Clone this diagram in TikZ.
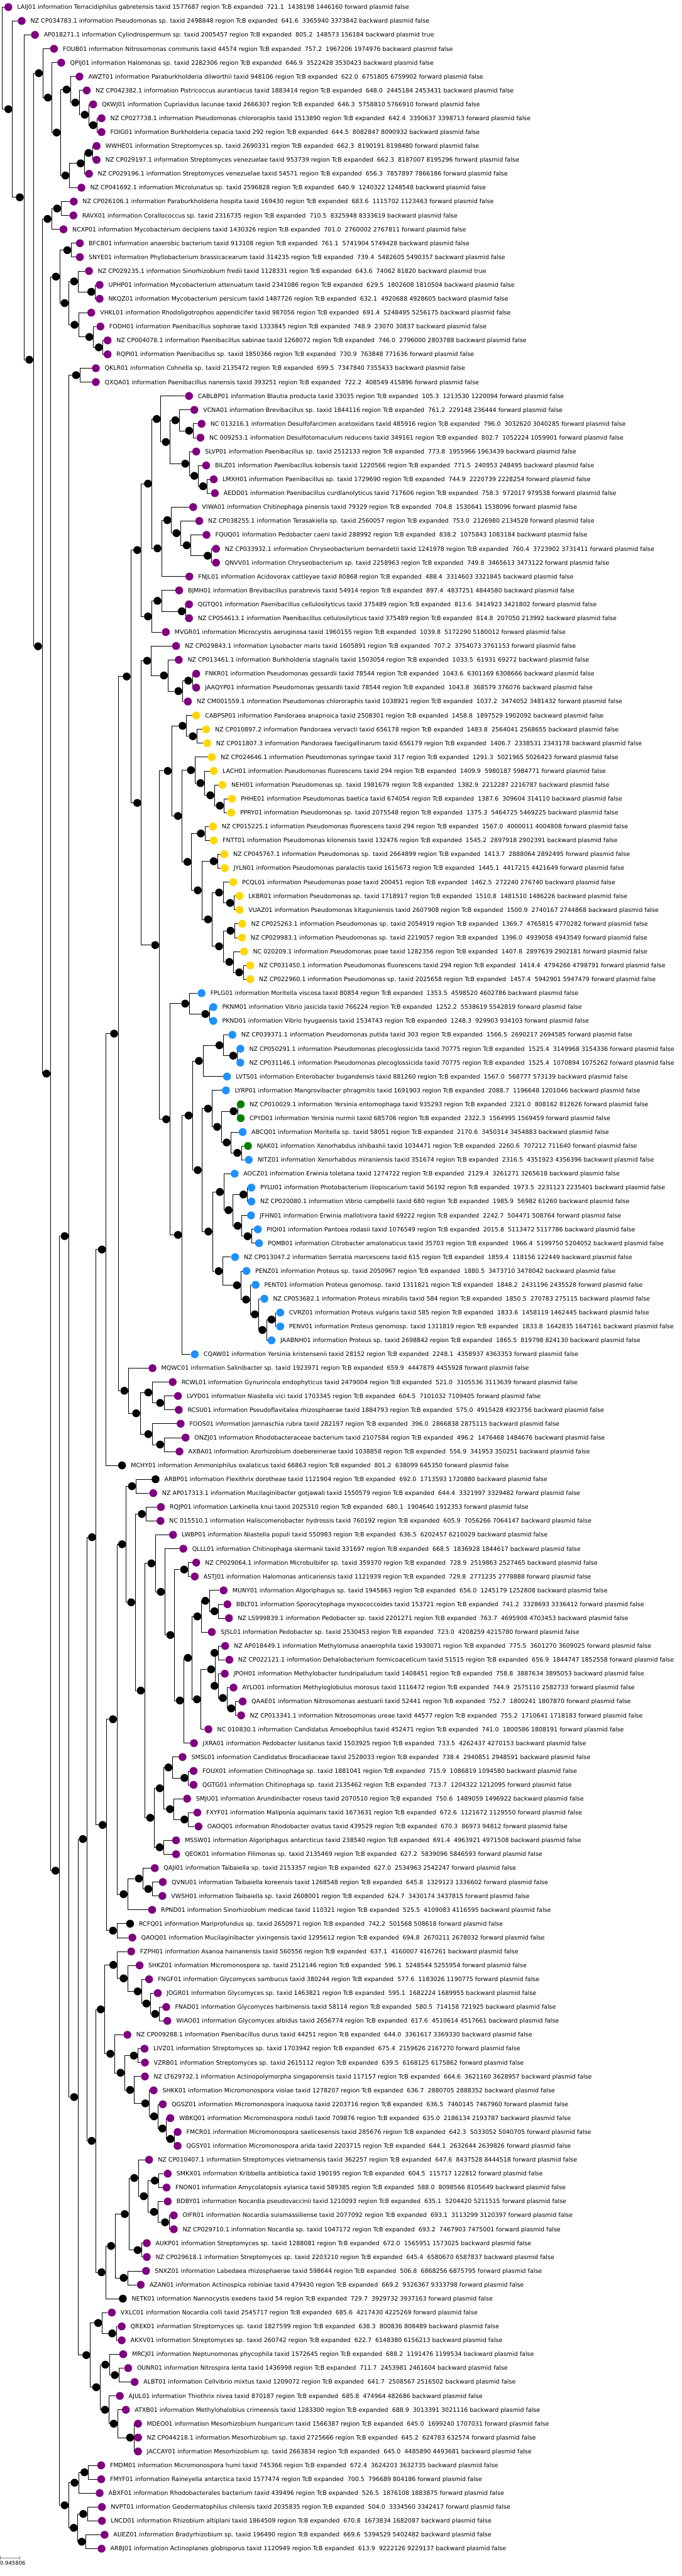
\documentclass[tikz,border=0pt]{standalone}
\usepackage{fontspec}
\setmainfont{DejaVu Sans}
\usetikzlibrary{backgrounds}
\definecolor{cpurple}{RGB}{128,0,128}
\definecolor{cyellow}{RGB}{255,215,0}
\definecolor{cblue}{RGB}{30,144,255}
\definecolor{cgreen}{RGB}{0,128,0}
\tikzset{
 dotbase/.style={circle,draw=none,minimum size=18.5pt,inner sep=0pt},
 inode/.style={dotbase,fill=black},
 leafp/.style={dotbase,fill=cpurple},
 leafy/.style={dotbase,fill=cyellow},
 leafb/.style={dotbase,fill=cblue},
 leafg/.style={dotbase,fill=cgreen},
 leafk/.style={dotbase,fill=black},
 lab/.style={anchor=base west,inner sep=0pt,font=\fontsize{14}{16}\selectfont},
 conn/.style={draw=black,line width=1pt},
}
\newcommand{\lf}[7]{\node[#4] (#1) at (#2,#3) {};\node[lab] (t#1) at ([xshift=11.2pt,yshift=-5.1pt]#1.east) {#5 region TcB expanded\ \ #6\ \ #7};}
\newcommand{\nd}[3]{\node[inode] (#1) at (#2,#3) {};}
\newcommand{\ch}[2]{\foreach \kid in {#2}{\draw[conn] (#1.east) |- (\kid.west);}}
\begin{document}
\begin{tikzpicture}[x=1pt,y=-32.59pt]
\useasboundingbox (0,0.48757) rectangle (1600,185.9706);
% leaves
\lf{l1}{19.6}{1}{leafp}{LAIJ01 information Terracidiphilus gabretensis taxid 1577687}{721.1}{1438198 1446160 forward plasmid false}
\lf{l2}{50.9}{2}{leafp}{NZ CP034783.1 information Pseudomonas sp. taxid 2498848}{641.6}{3365940 3373842 backward plasmid false}
\lf{l3}{82.1}{3}{leafp}{AP018271.1 information Cylindrospermum sp. taxid 2005457}{805.2}{148573 156184 backward plasmid true}
\lf{l4}{126.8}{4}{leafp}{FOUB01 information Nitrosomonas communis taxid 44574}{757.2}{1967206 1974976 backward plasmid false}
\lf{l5}{143.8}{5}{leafp}{QPIJ01 information Halomonas sp. taxid 2282306}{646.9}{3522428 3530423 backward plasmid false}
\lf{l6}{186.6}{6}{leafp}{AWZT01 information Paraburkholderia dilworthii taxid 948106}{622.0}{6751805 6759902 forward plasmid false}
\lf{l7}{203.6}{7}{leafp}{NZ CP042382.1 information Pistricoccus aurantiacus taxid 1883414}{648.0}{2445184 2453431 backward plasmid false}
\lf{l8}{218.8}{8}{leafp}{QKWJ01 information Cupriavidus lacunae taxid 2666307}{646.3}{5758810 5766910 forward plasmid false}
\lf{l9}{238.4}{9}{leafp}{NZ CP027738.1 information Pseudomonas chlororaphis taxid 1513890}{642.4}{3390637 3398713 forward plasmid false}
\lf{l10}{238.4}{10}{leafp}{FOIG01 information Burkholderia cepacia taxid 292}{644.5}{8082847 8090932 backward plasmid false}
\lf{l11}{226.8}{11}{leafp}{WWHE01 information Streptomyces sp. taxid 2690331}{662.3}{8190191 8198480 forward plasmid false}
\lf{l12}{226.8}{12}{leafp}{NZ CP029197.1 information Streptomyces venezuelae taxid 953739}{662.3}{8187007 8195296 forward plasmid false}
\lf{l13}{208.9}{13}{leafp}{NZ CP029196.1 information Streptomyces venezuelae taxid 54571}{656.3}{7857897 7866186 forward plasmid false}
\lf{l14}{191.1}{14}{leafp}{NZ CP041692.1 information Microlunatus sp. taxid 2596828}{640.9}{1240322 1248548 backward plasmid false}
\lf{l15}{173.2}{15}{leafp}{NZ CP026106.1 information Paraburkholderia hospita taxid 169430}{683.6}{1115702 1123463 forward plasmid false}
\lf{l16}{172.3}{16}{leafp}{RAVX01 information Corallococcus sp. taxid 2316735}{710.5}{8325948 8333619 backward plasmid false}
\lf{l17}{149.1}{17}{leafp}{NCXP01 information Mycobacterium decipiens taxid 1430326}{701.0}{2760002 2767811 forward plasmid false}
\lf{l18}{187.5}{18}{leafp}{BFCB01 information anaerobic bacterium taxid 913108}{761.1}{5741904 5749428 backward plasmid false}
\lf{l19}{187.5}{19}{leafp}{SNYE01 information Phyllobacterium brassicacearum taxid 314235}{739.4}{5482605 5490357 backward plasmid false}
\lf{l20}{208.9}{20}{leafp}{NZ CP029235.1 information Sinorhizobium fredii taxid 1128331}{643.6}{74062 81820 backward plasmid true}
\lf{l21}{233.9}{21}{leafp}{UPHP01 information Mycobacterium attenuatum taxid 2341086}{629.5}{1802608 1810504 backward plasmid false}
\lf{l22}{233.9}{22}{leafp}{NKQZ01 information Mycobacterium persicum taxid 1487726}{632.1}{4920688 4928605 backward plasmid false}
\lf{l23}{214.3}{23}{leafp}{VHKL01 information Rhodoligotrophos appendicifer taxid 987056}{691.4}{5248495 5256175 backward plasmid false}
\lf{l24}{235.7}{24}{leafp}{FODH01 information Paenibacillus sophorae taxid 1333845}{748.9}{23070 30837 backward plasmid false}
\lf{l25}{252.7}{25}{leafp}{NZ CP004078.1 information Paenibacillus sabinae taxid 1268072}{746.0}{2796000 2803788 backward plasmid false}
\lf{l26}{252.7}{26}{leafp}{RQPI01 information Paenibacillus sp. taxid 1850366}{730.9}{763848 771636 forward plasmid false}
\lf{l27}{225}{27}{leafp}{QKLR01 information Cohnella sp. taxid 2135472}{699.5}{7347840 7355433 backward plasmid false}
\lf{l28}{225}{28}{leafp}{QXQA01 information Paenibacillus nanensis taxid 393251}{722.2}{408549 415896 forward plasmid false}
\lf{l29}{443.8}{29}{leafp}{CABLBP01 information Blautia producta taxid 33035}{105.3}{1213530 1220094 forward plasmid false}
\lf{l30}{456.3}{30}{leafp}{VCNA01 information Brevibacillus sp. taxid 1844116}{761.2}{229148 236444 forward plasmid false}
\lf{l31}{473.2}{31}{leafp}{NC 013216.1 information Desulfofarcimen acetoxidans taxid 485916}{796.0}{3032620 3040285 forward plasmid false}
\lf{l32}{470.6}{32}{leafp}{NC 009253.1 information Desulfotomaculum reducens taxid 349161}{802.7}{1052224 1059901 forward plasmid false}
\lf{l33}{460.7}{33}{leafp}{SLVP01 information Paenibacillus sp. taxid 2512133}{773.8}{1955966 1963439 backward plasmid false}
\lf{l34}{484}{34}{leafp}{BILZ01 information Paenibacillus kobensis taxid 1220566}{771.5}{240953 248495 backward plasmid false}
\lf{l35}{501.8}{35}{leafp}{LMXH01 information Paenibacillus sp. taxid 1729690}{744.9}{2220739 2228254 forward plasmid false}
\lf{l36}{504.5}{36}{leafp}{AEDD01 information Paenibacillus curdlanolyticus taxid 717606}{758.3}{972017 979538 forward plasmid false}
\lf{l37}{453.6}{37}{leafp}{VIWA01 information Chitinophaga pinensis taxid 79329}{704.8}{1530641 1538096 forward plasmid false}
\lf{l38}{467.9}{38}{leafp}{NZ CP038255.1 information Terasakiella sp. taxid 2560057}{753.0}{2126980 2134528 forward plasmid false}
\lf{l39}{484.8}{39}{leafp}{FQUQ01 information Pedobacter caeni taxid 288992}{838.2}{1075843 1083184 backward plasmid false}
\lf{l40}{507.2}{40}{leafp}{NZ CP033932.1 information Chryseobacterium bernardetii taxid 1241978}{760.4}{3723902 3731411 forward plasmid false}
\lf{l41}{507.2}{41}{leafp}{QNVV01 information Chryseobacterium sp. taxid 2258963}{749.8}{3465613 3473122 forward plasmid false}
\lf{l42}{444.6}{42}{leafp}{FNJL01 information Acidovorax cattleyae taxid 80868}{488.4}{3314603 3321845 backward plasmid false}
\lf{l43}{420.6}{43}{leafp}{BJMH01 information Brevibacillus parabrevis taxid 54914}{897.4}{4837251 4844580 backward plasmid false}
\lf{l44}{443.8}{44}{leafp}{QGTQ01 information Paenibacillus cellulosilyticus taxid 375489}{813.6}{3414923 3421802 forward plasmid false}
\lf{l45}{443.8}{45}{leafp}{NZ CP054613.1 information Paenibacillus cellulosilyticus taxid 375489}{814.8}{207050 213992 backward plasmid false}
\lf{l46}{389.3}{46}{leafp}{MVGR01 information Microcystis aeruginosa taxid 1960155}{1039.8}{5172290 5180012 forward plasmid false}
\lf{l47}{413.4}{47}{leafp}{NZ CP029843.1 information Lysobacter maris taxid 1605891}{707.2}{3754073 3761153 forward plasmid false}
\lf{l48}{419.7}{48}{leafp}{NZ CP013461.1 information Burkholderia stagnalis taxid 1503054}{1033.5}{61931 69272 backward plasmid false}
\lf{l49}{460.7}{49}{leafp}{FNKR01 information Pseudomonas gessardii taxid 78544}{1043.6}{6301169 6308666 backward plasmid false}
\lf{l50}{460.7}{50}{leafp}{JAAQYP01 information Pseudomonas gessardii taxid 78544}{1043.8}{368579 376076 backward plasmid false}
\lf{l51}{441.1}{51}{leafp}{NZ CM001559.1 information Pseudomonas chlororaphis taxid 1038921}{1037.2}{3474052 3481432 forward plasmid false}
\lf{l52}{460.7}{52}{leafy}{CABPSP01 information Pandoraea anapnoica taxid 2508301}{1458.8}{1897529 1902092 backward plasmid false}
\lf{l53}{484}{53}{leafy}{NZ CP010897.2 information Pandoraea vervacti taxid 656178}{1483.8}{2564041 2568655 backward plasmid false}
\lf{l54}{486.6}{54}{leafy}{NZ CP011807.3 information Pandoraea faecigallinarum taxid 656179}{1406.7}{2338531 2343178 backward plasmid false}
\lf{l55}{497.3}{55}{leafy}{NZ CP024646.1 information Pseudomonas syringae taxid 317}{1291.3}{5021965 5026423 forward plasmid false}
\lf{l56}{501.8}{56}{leafy}{LACH01 information Pseudomonas fluorescens taxid 294}{1409.9}{5980187 5984771 forward plasmid false}
\lf{l57}{522.3}{57}{leafy}{NEHI01 information Pseudomonas sp. taxid 1981679}{1382.9}{2212287 2216787 backward plasmid false}
\lf{l58}{544.7}{58}{leafy}{PHHE01 information Pseudomonas baetica taxid 674054}{1387.6}{309604 314110 backward plasmid false}
\lf{l59}{542.9}{59}{leafy}{PPRY01 information Pseudomonas sp. taxid 2075548}{1375.3}{5464725 5469225 backward plasmid false}
\lf{l60}{500}{60}{leafy}{NZ CP015225.1 information Pseudomonas fluorescens taxid 294}{1567.0}{4000011 4004808 forward plasmid false}
\lf{l61}{501.8}{61}{leafy}{FNTT01 information Pseudomonas kilonensis taxid 132476}{1545.2}{2897918 2902391 backward plasmid false}
\lf{l62}{526.8}{62}{leafy}{NZ CP045767.1 information Pseudomonas sp. taxid 2664899}{1413.7}{2888064 2892495 forward plasmid false}
\lf{l63}{527.7}{63}{leafy}{JYLN01 information Pseudomonas paralactis taxid 1615673}{1445.1}{4417215 4421649 forward plasmid false}
\lf{l64}{547.4}{64}{leafy}{PCQL01 information Pseudomonas poae taxid 200451}{1462.5}{272240 276740 backward plasmid false}
\lf{l65}{562.5}{65}{leafy}{LKBR01 information Pseudomonas sp. taxid 1718917}{1510.8}{1481510 1486226 backward plasmid false}
\lf{l66}{562.5}{66}{leafy}{VUAZ01 information Pseudomonas kitaguniensis taxid 2607908}{1500.9}{2740167 2744868 backward plasmid false}
\lf{l67}{568.8}{67}{leafy}{NZ CP025263.1 information Pseudomonas sp. taxid 2054919}{1369.7}{4765815 4770282 forward plasmid false}
\lf{l68}{567.9}{68}{leafy}{NZ CP029983.1 information Pseudomonas sp. taxid 2219057}{1396.0}{4939058 4943549 forward plasmid false}
\lf{l69}{573.2}{69}{leafy}{NC 020209.1 information Pseudomonas poae taxid 1282356}{1407.8}{2897639 2902181 forward plasmid false}
\lf{l70}{587.5}{70}{leafy}{NZ CP031450.1 information Pseudomonas fluorescens taxid 294}{1414.4}{4794266 4798791 forward plasmid false}
\lf{l71}{587.5}{71}{leafy}{NZ CP022960.1 information Pseudomonas sp. taxid 2025658}{1457.4}{5942901 5947479 forward plasmid false}
\lf{l72}{473.2}{72}{leafb}{FPLG01 information Moritella viscosa taxid 80854}{1353.5}{4598520 4602786 backward plasmid false}
\lf{l73}{500.9}{73}{leafb}{PKNM01 information Vibrio jasicida taxid 766224}{1252.2}{5538619 5542819 forward plasmid false}
\lf{l74}{500.9}{74}{leafb}{PKND01 information Vibrio hyugaensis taxid 1534743}{1248.3}{929903 934103 forward plasmid false}
\lf{l75}{545.6}{75}{leafb}{NZ CP039371.1 information Pseudomonas putida taxid 303}{1566.5}{2690217 2694585 forward plasmid false}
\lf{l76}{564.3}{76}{leafb}{NZ CP050291.1 information Pseudomonas plecoglossicida taxid 70775}{1525.4}{3149968 3154336 forward plasmid false}
\lf{l77}{564.3}{77}{leafb}{NZ CP031146.1 information Pseudomonas plecoglossicida taxid 70775}{1525.4}{1070894 1075262 forward plasmid false}
\lf{l78}{533}{78}{leafb}{LVTS01 information Enterobacter bugandensis taxid 881260}{1567.0}{568777 573139 backward plasmid false}
\lf{l79}{530.4}{79}{leafb}{LYRP01 information Mangrovibacter phragmitis taxid 1691903}{2088.7}{1196648 1201046 backward plasmid false}
\lf{l80}{565.2}{80}{leafg}{NZ CP010029.1 information Yersinia entomophaga taxid 935293}{2321.0}{808162 812626 forward plasmid false}
\lf{l81}{565.2}{81}{leafg}{CPYD01 information Yersinia nurmii taxid 685706}{2322.3}{1564995 1569459 forward plasmid false}
\lf{l82}{569.7}{82}{leafb}{ABCQ01 information Moritella sp. taxid 58051}{2170.6}{3450314 3454883 backward plasmid false}
\lf{l83}{582.2}{83}{leafg}{NJAK01 information Xenorhabdus ishibashii taxid 1034471}{2260.6}{707212 711640 forward plasmid false}
\lf{l84}{584}{84}{leafb}{NITZ01 information Xenorhabdus miraniensis taxid 351674}{2316.5}{4351923 4356396 backward plasmid false}
\lf{l85}{550.9}{85}{leafb}{AOCZ01 information Erwinia toletana taxid 1274722}{2129.4}{3261271 3265618 backward plasmid false}
\lf{l86}{590.2}{86}{leafb}{PYLU01 information Photobacterium iliopiscarium taxid 56192}{1973.5}{2231123 2235401 backward plasmid false}
\lf{l87}{590.2}{87}{leafb}{NZ CP020080.1 information Vibrio campbellii taxid 680}{1985.9}{56982 61260 backward plasmid false}
\lf{l88}{589.3}{88}{leafb}{JFHN01 information Erwinia mallotivora taxid 69222}{2242.7}{504471 508764 forward plasmid false}
\lf{l89}{605.4}{89}{leafb}{PIQI01 information Pantoea rodasii taxid 1076549}{2015.8}{5113472 5117786 backward plasmid false}
\lf{l90}{608}{90}{leafb}{PQMB01 information Citrobacter amalonaticus taxid 35703}{1966.4}{5199750 5204052 backward plasmid false}
\lf{l91}{551.8}{91}{leafb}{NZ CP013047.2 information Serratia marcescens taxid 615}{1859.4}{118156 122449 backward plasmid false}
\lf{l92}{578.6}{92}{leafb}{PENZ01 information Proteus sp. taxid 2050967}{1880.5}{3473710 3478042 backward plasmid false}
\lf{l93}{600}{93}{leafb}{PENT01 information Proteus genomosp. taxid 1311821}{1848.2}{2431196 2435528 forward plasmid false}
\lf{l94}{620.6}{94}{leafb}{NZ CP053682.1 information Proteus mirabilis taxid 584}{1850.5}{270783 275115 backward plasmid false}
\lf{l95}{658}{95}{leafb}{CVRZ01 information Proteus vulgaris taxid 585}{1833.6}{1458119 1462445 backward plasmid false}
\lf{l96}{658}{96}{leafb}{PENV01 information Proteus genomosp. taxid 1311819}{1833.8}{1642835 1647161 backward plasmid false}
\lf{l97}{637.5}{97}{leafb}{JAABNH01 information Proteus sp. taxid 2698842}{1865.5}{819798 824130 backward plasmid false}
\lf{l98}{457.2}{98}{leafb}{CQAW01 information Yersinia kristensenii taxid 28152}{2248.1}{4358937 4363353 forward plasmid false}
\lf{l99}{358}{99}{leafp}{MQWC01 information Salinibacter sp. taxid 1923971}{659.9}{4447879 4455928 forward plasmid false}
\lf{l100}{405.4}{100}{leafp}{RCWL01 information Gynurincola endophyticus taxid 2479004}{521.0}{3105536 3113639 forward plasmid false}
\lf{l101}{417.9}{101}{leafp}{LVYD01 information Niastella vici taxid 1703345}{604.5}{7101032 7109405 forward plasmid false}
\lf{l102}{419.7}{102}{leafp}{RCSU01 information Pseudoflavitalea rhizosphaerae taxid 1884793}{575.0}{4915428 4923756 backward plasmid false}
\lf{l103}{424.1}{103}{leafp}{FOOS01 information Jannaschia rubra taxid 282197}{396.0}{2866838 2875115 backward plasmid false}
\lf{l104}{435.7}{104}{leafp}{ONZJ01 information Rhodobacteraceae bacterium taxid 2107584}{496.2}{1476468 1484676 backward plasmid false}
\lf{l105}{421.4}{105}{leafp}{AXBA01 information Azorhizobium doebereinerae taxid 1038858}{556.9}{341953 350251 backward plasmid false}
\lf{l106}{286.6}{106}{leafk}{MCHY01 information Ammoniphilus oxalaticus taxid 66863}{801.2}{638099 645350 forward plasmid false}
\lf{l107}{365.2}{107}{leafk}{ARBP01 information Flexithrix dorotheae taxid 1121904}{692.0}{1713593 1720880 backward plasmid false}
\lf{l108}{359.8}{108}{leafp}{NZ AP017313.1 information Mucilaginibacter gotjawali taxid 1550579}{644.4}{3321997 3329482 forward plasmid false}
\lf{l109}{377.7}{109}{leafp}{RQJP01 information Larkinella knui taxid 2025310}{680.1}{1904640 1912353 forward plasmid false}
\lf{l110}{376.8}{110}{leafp}{NC 015510.1 information Haliscomenobacter hydrossis taxid 760192}{605.9}{7056266 7064147 backward plasmid false}
\lf{l111}{406.3}{111}{leafp}{LWBP01 information Niastella populi taxid 550983}{636.5}{6202457 6210029 backward plasmid false}
\lf{l112}{430.4}{112}{leafp}{QLLL01 information Chitinophaga skermanii taxid 331697}{668.5}{1836928 1844617 backward plasmid false}
\lf{l113}{460.7}{113}{leafp}{NZ CP029064.1 information Microbulbifer sp. taxid 359370}{728.9}{2519863 2527465 backward plasmid false}
\lf{l114}{457.2}{114}{leafp}{ASTJ01 information Halomonas anticariensis taxid 1121939}{729.8}{2771235 2778888 forward plasmid false}
\lf{l115}{525}{115}{leafp}{MUNY01 information Algoriphagus sp. taxid 1945863}{656.0}{1245179 1252808 backward plasmid false}
\lf{l116}{534}{116}{leafp}{BBLT01 information Sporocytophaga myxococcoides taxid 153721}{741.2}{3328693 3336412 forward plasmid false}
\lf{l117}{537.5}{117}{leafp}{NZ LS999839.1 information Pedobacter sp. taxid 2201271}{763.7}{4695908 4703453 backward plasmid false}
\lf{l118}{497.3}{118}{leafp}{SJSL01 information Pedobacter sp. taxid 2530453}{723.0}{4208259 4215780 forward plasmid false}
\lf{l119}{528.6}{119}{leafp}{NZ AP018449.1 information Methylomusa anaerophila taxid 1930071}{775.5}{3601270 3609025 forward plasmid false}
\lf{l120}{538.4}{120}{leafp}{NZ CP022121.1 information Dehalobacterium formicoaceticum taxid 51515}{656.9}{1844747 1852558 forward plasmid false}
\lf{l121}{527.7}{121}{leafp}{JPOH01 information Methylobacter tundripaludum taxid 1408451}{758.8}{3887634 3895053 backward plasmid false}
\lf{l122}{548.2}{122}{leafp}{AYLO01 information Methyloglobulus morosus taxid 1116472}{744.9}{2575110 2582733 forward plasmid false}
\lf{l123}{569.7}{123}{leafp}{QAAE01 information Nitrosomonas aestuarii taxid 52441}{752.7}{1800241 1807870 forward plasmid false}
\lf{l124}{566.1}{124}{leafp}{NZ CP013341.1 information Nitrosomonas ureae taxid 44577}{755.2}{1710641 1718183 forward plasmid false}
\lf{l125}{489.3}{125}{leafp}{NC 010830.1 information Candidatus Amoebophilus taxid 452471}{741.0}{1800586 1808191 forward plasmid false}
\lf{l126}{455.4}{126}{leafp}{JXRA01 information Pedobacter lusitanus taxid 1503925}{733.5}{4262437 4270153 backward plasmid false}
\lf{l127}{428.6}{127}{leafp}{SMSL01 information Candidatus Brocadiaceae taxid 2528033}{738.4}{2940851 2948591 backward plasmid false}
\lf{l128}{454.5}{128}{leafp}{FOUX01 information Chitinophaga sp. taxid 1881041}{715.9}{1086819 1094580 backward plasmid false}
\lf{l129}{454.5}{129}{leafp}{QGTG01 information Chitinophaga sp. taxid 2135462}{713.7}{1204322 1212095 forward plasmid false}
\lf{l130}{439.3}{130}{leafp}{SMJU01 information Arundinibacter roseus taxid 2070510}{750.6}{1489059 1496922 backward plasmid false}
\lf{l131}{463.4}{131}{leafp}{FXYF01 information Maliponia aquimaris taxid 1673631}{672.6}{1121672 1129550 forward plasmid false}
\lf{l132}{466.1}{132}{leafp}{OAOQ01 information Rhodobacter ovatus taxid 439529}{670.3}{86973 94812 forward plasmid false}
\lf{l133}{413.4}{133}{leafp}{MSSW01 information Algoriphagus antarcticus taxid 238540}{691.4}{4963921 4971508 backward plasmid false}
\lf{l134}{413.4}{134}{leafp}{QEOK01 information Filimonas sp. taxid 2135469}{627.2}{5839096 5846593 forward plasmid false}
\lf{l135}{363.4}{135}{leafp}{QAJI01 information Taibaiella sp. taxid 2153357}{627.0}{2534963 2542247 forward plasmid false}
\lf{l136}{382.2}{136}{leafp}{QVNU01 information Taibaiella koreensis taxid 1268548}{645.8}{1329123 1336602 forward plasmid false}
\lf{l137}{381.3}{137}{leafp}{VWSH01 information Taibaiella sp. taxid 2608001}{624.7}{3430174 3437815 forward plasmid false}
\lf{l138}{357.2}{138}{leafp}{RPND01 information Sinorhizobium medicae taxid 110321}{525.5}{4109083 4116595 backward plasmid false}
\lf{l139}{305.4}{139}{leafk}{RCFQ01 information Mariprofundus sp. taxid 2650971}{742.2}{501568 508618 forward plasmid false}
\lf{l140}{310.7}{140}{leafp}{QAOQ01 information Mucilaginibacter yixingensis taxid 1295612}{694.8}{2670211 2678032 forward plasmid false}
\lf{l141}{308}{141}{leafp}{FZPH01 information Asanoa hainanensis taxid 560556}{637.1}{4160007 4167261 backward plasmid false}
\lf{l142}{327.7}{142}{leafp}{SHKZ01 information Micromonospora sp. taxid 2512146}{596.1}{5248544 5255954 forward plasmid false}
\lf{l143}{350}{143}{leafp}{FNGF01 information Glycomyces sambucus taxid 380244}{577.6}{1183026 1190775 forward plasmid false}
\lf{l144}{370.5}{144}{leafp}{JOGR01 information Glycomyces sp. taxid 1463821}{595.1}{1682224 1689955 backward plasmid false}
\lf{l145}{390.2}{145}{leafp}{FNAD01 information Glycomyces harbinensis taxid 58114}{580.5}{714158 721925 backward plasmid false}
\lf{l146}{392.9}{146}{leafp}{WIAO01 information Glycomyces albidus taxid 2656774}{617.6}{4510614 4517661 backward plasmid false}
\lf{l147}{299.1}{147}{leafp}{NZ CP009288.1 information Paenibacillus durus taxid 44251}{644.0}{3361617 3369330 backward plasmid false}
\lf{l148}{339.3}{148}{leafp}{LIVZ01 information Streptomyces sp. taxid 1703942}{675.4}{2159626 2167270 forward plasmid false}
\lf{l149}{340.2}{149}{leafp}{VZRB01 information Streptomyces sp. taxid 2615112}{639.5}{6168125 6175862 forward plasmid false}
\lf{l150}{340.2}{150}{leafp}{NZ LT629732.1 information Actinopolymorpha singaporensis taxid 117157}{664.6}{3621160 3628957 backward plasmid false}
\lf{l151}{360.7}{151}{leafp}{SHKK01 information Micromonospora violae taxid 1278207}{636.7}{2880705 2888352 backward plasmid false}
\lf{l152}{382.2}{152}{leafp}{QGSZ01 information Micromonospora inaquosa taxid 2203716}{636.5}{7460145 7467960 forward plasmid false}
\lf{l153}{400}{153}{leafp}{WBKQ01 information Micromonospora noduli taxid 709876}{635.0}{2186134 2193787 backward plasmid false}
\lf{l154}{417}{154}{leafp}{FMCR01 information Micromonospora saelicesensis taxid 285676}{642.3}{5033052 5040705 forward plasmid false}
\lf{l155}{417}{155}{leafp}{QGSY01 information Micromonospora arida taxid 2203715}{644.1}{2632644 2639826 forward plasmid false}
\lf{l156}{350}{156}{leafp}{NZ CP010407.1 information Streptomyces vietnamensis taxid 362257}{647.6}{8437528 8444518 forward plasmid false}
\lf{l157}{393.8}{157}{leafp}{SMKX01 information Kribbella antibiotica taxid 190195}{604.5}{115717 122812 forward plasmid false}
\lf{l158}{391.1}{158}{leafp}{FNON01 information Amycolatopsis xylanica taxid 589385}{588.0}{8098566 8105649 backward plasmid false}
\lf{l159}{393.8}{159}{leafp}{BDBY01 information Nocardia pseudovaccinii taxid 1210093}{635.1}{5204420 5211515 forward plasmid false}
\lf{l160}{408}{160}{leafp}{OIFR01 information Nocardia suismassiliense taxid 2077092}{693.1}{3113299 3120397 forward plasmid false}
\lf{l161}{408}{161}{leafp}{NZ CP029710.1 information Nocardia sp. taxid 1047172}{693.2}{7467903 7475001 forward plasmid false}
\lf{l162}{344.6}{162}{leafp}{AUKP01 information Streptomyces sp. taxid 1288081}{672.0}{1565951 1573025 backward plasmid false}
\lf{l163}{344.6}{163}{leafp}{NZ CP029618.1 information Streptomyces sp. taxid 2203210}{645.4}{6580670 6587837 backward plasmid false}
\lf{l164}{342.9}{164}{leafp}{SNXZ01 information Labedaea rhizosphaerae taxid 598644}{506.8}{6868256 6875795 forward plasmid false}
\lf{l165}{330.4}{165}{leafp}{AZAN01 information Actinospica robiniae taxid 479430}{669.2}{9326367 9333798 forward plasmid false}
\lf{l166}{288.4}{166}{leafk}{NETK01 information Nannocystis exedens taxid 54}{729.7}{3929732 3937163 forward plasmid false}
\lf{l167}{262.5}{167}{leafp}{VXLC01 information Nocardia colli taxid 2545717}{685.6}{4217430 4225269 forward plasmid false}
\lf{l168}{285.7}{168}{leafp}{QREK01 information Streptomyces sp. taxid 1827599}{638.3}{800836 808489 backward plasmid false}
\lf{l169}{285.7}{169}{leafp}{AKXV01 information Streptomyces sp. taxid 260742}{622.7}{6148380 6156213 backward plasmid false}
\lf{l170}{289.3}{170}{leafp}{MRCJ01 information Neptunomonas phycophila taxid 1572645}{688.2}{1191476 1199534 backward plasmid false}
\lf{l171}{300.9}{171}{leafp}{OUNR01 information Nitrospira lenta taxid 1436998}{711.7}{2453981 2461604 backward plasmid false}
\lf{l172}{316.1}{172}{leafp}{ALBT01 information Cellvibrio mixtus taxid 1209072}{641.7}{2508567 2516502 backward plasmid false}
\lf{l173}{281.3}{173}{leafp}{AJUL01 information Thiothrix nivea taxid 870187}{685.8}{474964 482686 backward plasmid false}
\lf{l174}{295.5}{174}{leafp}{ATXB01 information Methylohalobius crimeensis taxid 1283300}{688.9}{3013391 3021116 backward plasmid false}
\lf{l175}{324.1}{175}{leafp}{MDEO01 information Mesorhizobium hungaricum taxid 1566387}{645.0}{1699240 1707031 forward plasmid false}
\lf{l176}{324.1}{176}{leafp}{NZ CP044218.1 information Mesorhizobium sp. taxid 2725666}{645.2}{624783 632574 forward plasmid false}
\lf{l177}{324.1}{177}{leafp}{JACCAY01 information Mesorhizobium sp. taxid 2663834}{645.0}{4485890 4493681 backward plasmid false}
\lf{l178}{237.5}{178}{leafp}{FMDM01 information Micromonospora humi taxid 745366}{672.4}{3624203 3632735 backward plasmid false}
\lf{l179}{237.5}{179}{leafp}{FMYF01 information Raineyella antarctica taxid 1577474}{700.5}{796689 804186 forward plasmid false}
\lf{l180}{233.9}{180}{leafp}{ABXF01 information Rhodobacterales bacterium taxid 439496}{526.5}{1876108 1883875 forward plasmid false}
\lf{l181}{239.3}{181}{leafp}{NVPT01 information Geodermatophilus chilensis taxid 2035835}{504.0}{3334560 3342417 forward plasmid false}
\lf{l182}{239.3}{182}{leafp}{LNCD01 information Rhizobium altiplani taxid 1864509}{670.8}{1673834 1682087 backward plasmid false}
\lf{l183}{245.5}{183}{leafp}{AUEZ01 information Bradyrhizobium sp. taxid 196490}{669.6}{5394529 5402482 backward plasmid false}
\lf{l184}{238.4}{184}{leafp}{ARBJ01 information Actinoplanes globisporus taxid 1120949}{613.9}{9222126 9229137 backward plasmid false}
% internal nodes
\coordinate (root) at (4.5,4.67376);
\nd{A}{19.6}{8.34752}\nd{B}{46.4}{14.69505}\nd{C}{68.8}{26.39009}
\nd{D}{91.1}{5.7578125}\nd{F}{112.5}{7.515625}\nd{G}{133}{10.03125}
\nd{H}{156.3}{6.9375}\nd{H2}{176.8}{7.875}\nd{H3}{199}{8.75}\nd{H4}{218.8}{9.5}
\nd{I}{153.6}{13.125}\nd{I2}{189.3}{12.25}\nd{I3}{208}{11.5}
\nd{E}{89.3}{47.02237}\nd{J}{111.6}{16.25}\nd{K}{134}{15.5}
\nd{L}{109}{77.79474}\nd{M}{131.3}{20.40625}\nd{M1}{158}{18.5}\nd{M2}{151.8}{22.3125}
\nd{M2a}{174}{20.75}\nd{M2a2}{214.3}{21.5}\nd{M2b}{175}{23.875}\nd{M2c}{209.8}{24.75}\nd{M2d}{232}{25.5}
\nd{N}{130.4}{135.18323}\nd{P}{151.8}{89.49146}\nd{P1}{178.6}{27.5}\nd{P2}{174}{151.4829}
\nd{AF}{194.6}{132.9033}\nd{AD}{216}{111.1719}\nd{AC}{239.3}{90.4554}\nd{AA}{267.9}{74.9108}
\nd{V}{297.3}{49.1966}\nd{U}{322.3}{40.09375}\nd{S}{347.4}{35.3125}
\nd{R1}{367.9}{30.65625}\nd{R2}{389.3}{32.3125}\nd{R3}{411.6}{30.75}\nd{R3a}{443.8}{31.5}
\nd{R4}{434.9}{33.875}\nd{R5}{456.3}{34.75}\nd{R6}{476.8}{35.5}
\nd{S2}{369.7}{39.96875}\nd{S3}{392.9}{37.9375}\nd{S4}{414.3}{38.875}\nd{S5}{438.4}{39.75}\nd{S6}{487.5}{40.5}
\nd{T}{347.4}{44.875}\nd{T1}{369.7}{43.75}\nd{T2}{426.8}{44.5}
\nd{W}{322.3}{58.29944}\nd{X}{345.6}{48.0625}\nd{X1}{384.8}{49.125}\nd{X2}{418.8}{50.25}\nd{X3}{442}{49.5}
\nd{Y}{364.3}{68.53638}\nd{Z}{393.8}{55.99609}\nd{Z1}{428.6}{52.75}\nd{Z1a}{452.7}{53.5}
\nd{Z2}{417.9}{59.24219}\nd{Z3}{448.2}{55.9375}\nd{Z4}{470.6}{56.875}\nd{Z5}{493.8}{57.75}\nd{Z6}{516.1}{58.5}
\nd{Z2b}{440.2}{62.546875}\nd{Z7}{471.5}{60.5}\nd{Z8}{464.3}{64.59375}\nd{Z9}{501.8}{62.5}
\nd{Z10}{488.4}{66.6875}\nd{Z11}{514.3}{64.75}\nd{Z11a}{540.2}{65.5}\nd{Z12}{514.3}{68.625}
\nd{Z13}{541.1}{67.5}\nd{Z14}{538.4}{69.75}\nd{Z15}{561.6}{70.5}
\nd{Y2}{390.2}{81.07666}\nd{Y3}{434.8}{72.75}\nd{Y3a}{482.1}{73.5}\nd{Y4}{417.9}{89.40332}
\nd{Y5}{442.9}{80.80664}\nd{Y6}{467}{76.875}\nd{Y6a}{515.2}{75.75}\nd{Y6b}{547.4}{76.5}
\nd{Y7}{464.3}{84.73828}\nd{Y8}{488.4}{80.3125}\nd{Y9}{509.8}{81.625}\nd{Y10}{548.3}{80.5}
\nd{Y11}{532.2}{82.75}\nd{Y11a}{557.2}{83.5}\nd{Y12}{489.3}{89.16406}\nd{Y13}{516.1}{86.3125}
\nd{Y14}{536.6}{87.625}\nd{Y15}{571.5}{86.5}\nd{Y16}{558}{88.75}\nd{Y16a}{581.3}{89.5}
\nd{Y17}{513.4}{92.015625}\nd{Y18}{556.3}{93.03125}\nd{Y19}{577.7}{94.0625}\nd{Y20}{598.3}{95.125}
\nd{Y21}{616.1}{96.25}\nd{Y22}{637.5}{95.5}
\nd{AB}{292}{100.625}\nd{AB1}{319.7}{102.25}\nd{AB2}{348.2}{100.75}\nd{AB3}{375.9}{101.5}
\nd{AB4}{348.2}{103.75}\nd{AB5}{375.9}{104.5}
\nd{AE}{241}{131.8884}\nd{AE1}{265.2}{124.2768}\nd{AE3}{286.6}{111.67859}\nd{AE4}{309.8}{107.5}
\nd{AE5}{308}{115.85718}\nd{AE6}{333}{109.5}\nd{AE7}{330.4}{122.21436}\nd{AE8}{355.4}{113.05371}
\nd{AE9}{377.7}{115.10742}\nd{AE10}{400}{118.21484}\nd{AE11}{432.2}{113.5}\nd{AE12}{422.3}{122.92969}
\nd{AE13}{441.1}{119.859375}\nd{AE14}{463.4}{116.875}\nd{AE14a}{482.1}{115.75}\nd{AE14b}{503.6}{116.5}
\nd{AE15}{462.5}{122.84375}\nd{AE15a}{495.6}{120.6875}\nd{AE15b}{503.6}{119.5}\nd{AE15c}{503.6}{121.875}
\nd{AE15d}{523.2}{122.75}\nd{AE15e}{542.9}{123.5}
\nd{AE16}{352.7}{131.375}\nd{AE17}{375}{129.25}\nd{AE17a}{395.5}{127.75}\nd{AE17b}{433}{128.5}
\nd{AE17c}{399.1}{130.75}\nd{AE17d}{433}{131.5}\nd{AE19}{375}{133.5}
\nd{AE20}{290.2}{136.875}\nd{AE21}{326}{135.75}\nd{AE22}{348.2}{136.5}\nd{AE2}{265.2}{139.5}
\nd{AG}{215.2}{154.63477}\nd{AG1}{236.6}{145.16797}\nd{AG2}{266}{141.96875}\nd{AG3}{290.2}{142.9375}
\nd{AG4}{323.2}{143.875}\nd{AG5}{343.8}{144.75}\nd{AG5a}{364.3}{145.5}
\nd{AG6}{259}{148.36719}\nd{AG7}{283}{149.73438}\nd{AG8}{314.3}{148.5}\nd{AG9}{305.4}{150.96875}
\nd{AG10}{341.1}{151.9375}\nd{AG11}{361.6}{152.875}\nd{AG12}{381.3}{153.75}\nd{AG13}{400}{154.5}
\nd{AG20}{238.4}{164.10156}\nd{AG21}{260.7}{162.20313}\nd{AG22}{292.9}{159.90625}\nd{AG23}{315.2}{157.3125}
\nd{AG24}{337.5}{158.625}\nd{AG25}{363.4}{157.5}\nd{AG26}{361.6}{159.75}\nd{AG26a}{387.5}{160.5}
\nd{AG27}{323.2}{162.5}\nd{AG28}{290.2}{164.5}
\nd{AH}{202.7}{170.0625}\nd{AH1}{230.4}{167.75}\nd{AH2}{263.4}{168.5}\nd{AH3}{225.9}{172.375}
\nd{AH4}{247.3}{170.75}\nd{AH5}{269.6}{171.5}\nd{AH6}{246.4}{174}\nd{AH7}{267}{175}\nd{AH8}{305.4}{176}
\nd{Q}{151.8}{180.875}\nd{Q1}{175}{179.25}\nd{Q2}{198.2}{178.5}\nd{Q3}{173.2}{182.5}
\nd{Q4}{195.5}{181.5}\nd{Q5}{192}{183.5}
% scale bar
\coordinate (sba) at (0.6,184.663);
\coordinate (sbb) at (46.2,184.663);
\draw[gray,line width=1pt] (sba) -- (sbb);
\draw[gray,line width=1pt] ([yshift=4pt]sba) -- ([yshift=-4pt]sba);
\draw[gray,line width=1pt] ([yshift=4pt]sbb) -- ([yshift=-4pt]sbb);
\node[anchor=west,inner sep=0pt,font=\fontsize{12.5}{14}\selectfont] (sblab) at (0,185.04) {0.945806};
% connectors
\begin{scope}[on background layer]
\draw[conn] (root) |- (l1.west);
\draw[conn] (root) |- (A.west);
\ch{A}{l2,B}\ch{B}{l3,C}\ch{C}{D,E}\ch{D}{l4,F}\ch{F}{l5,G}\ch{G}{H,I}
\ch{H}{l6,H2}\ch{H2}{l7,H3}\ch{H3}{l8,H4}\ch{H4}{l9,l10}
\ch{I}{I2,l14}\ch{I2}{I3,l13}\ch{I3}{l11,l12}
\ch{E}{J,L}\ch{J}{K,l17}\ch{K}{l15,l16}
\ch{L}{M,N}\ch{M}{M1,M2}\ch{M1}{l18,l19}\ch{M2}{M2a,M2b}
\ch{M2a}{l20,M2a2}\ch{M2a2}{l21,l22}\ch{M2b}{l23,M2c}\ch{M2c}{l24,M2d}\ch{M2d}{l25,l26}
\ch{N}{P,Q}\ch{P}{P1,P2}\ch{P1}{l27,l28}\ch{P2}{AF,AH}
\ch{AF}{AD,AG}\ch{AD}{AC,AE}\ch{AC}{AA,l106}\ch{AA}{V,AB}
\ch{V}{U,W}\ch{U}{S,T}\ch{S}{R1,S2}
\ch{R1}{l29,R2}\ch{R2}{R3,R4}\ch{R3}{l30,R3a}\ch{R3a}{l31,l32}
\ch{R4}{l33,R5}\ch{R5}{l34,R6}\ch{R6}{l35,l36}
\ch{S2}{S3,l42}\ch{S3}{l37,S4}\ch{S4}{l38,S5}\ch{S5}{l39,S6}\ch{S6}{l40,l41}
\ch{T}{T1,l46}\ch{T1}{l43,T2}\ch{T2}{l44,l45}
\ch{W}{X,Y}\ch{X}{l47,X1}\ch{X1}{l48,X2}\ch{X2}{X3,l51}\ch{X3}{l49,l50}
\ch{Y}{Z,Y2}\ch{Z}{Z1,Z2}\ch{Z1}{l52,Z1a}\ch{Z1a}{l53,l54}
\ch{Z2}{Z3,Z2b}\ch{Z3}{l55,Z4}\ch{Z4}{l56,Z5}\ch{Z5}{l57,Z6}\ch{Z6}{l58,l59}
\ch{Z2b}{Z7,Z8}\ch{Z7}{l60,l61}\ch{Z8}{Z9,Z10}\ch{Z9}{l62,l63}
\ch{Z10}{Z11,Z12}\ch{Z11}{l64,Z11a}\ch{Z11a}{l65,l66}
\ch{Z12}{Z13,Z14}\ch{Z13}{l67,l68}\ch{Z14}{l69,Z15}\ch{Z15}{l70,l71}
\ch{Y2}{Y3,Y4}\ch{Y3}{l72,Y3a}\ch{Y3a}{l73,l74}\ch{Y4}{Y5,l98}
\ch{Y5}{Y6,Y7}\ch{Y6}{Y6a,l78}\ch{Y6a}{l75,Y6b}\ch{Y6b}{l76,l77}
\ch{Y7}{Y8,Y12}\ch{Y8}{l79,Y9}\ch{Y9}{Y10,Y11}\ch{Y10}{l80,l81}\ch{Y11}{l82,Y11a}\ch{Y11a}{l83,l84}
\ch{Y12}{Y13,Y17}\ch{Y13}{l85,Y14}\ch{Y14}{Y15,Y16}\ch{Y15}{l86,l87}\ch{Y16}{l88,Y16a}\ch{Y16a}{l89,l90}
\ch{Y17}{l91,Y18}\ch{Y18}{l92,Y19}\ch{Y19}{l93,Y20}\ch{Y20}{l94,Y21}\ch{Y21}{Y22,l97}\ch{Y22}{l95,l96}
\ch{AB}{l99,AB1}\ch{AB1}{AB2,AB4}\ch{AB2}{l100,AB3}\ch{AB3}{l101,l102}\ch{AB4}{l103,AB5}\ch{AB5}{l104,l105}
\ch{AE}{AE1,AE2}\ch{AE1}{AE3,AE20}\ch{AE3}{AE4,AE5}\ch{AE4}{l107,l108}
\ch{AE5}{AE6,AE7}\ch{AE6}{l109,l110}\ch{AE7}{AE8,AE16}
\ch{AE8}{l111,AE9}\ch{AE9}{l112,AE10}\ch{AE10}{AE11,AE12}\ch{AE11}{l113,l114}
\ch{AE12}{AE13,l126}\ch{AE13}{AE14,AE15}\ch{AE14}{AE14a,l118}\ch{AE14a}{l115,AE14b}\ch{AE14b}{l116,l117}
\ch{AE15}{AE15a,l125}\ch{AE15a}{AE15b,AE15c}\ch{AE15b}{l119,l120}\ch{AE15c}{l121,AE15d}
\ch{AE15d}{l122,AE15e}\ch{AE15e}{l123,l124}
\ch{AE16}{AE17,AE19}\ch{AE17}{AE17a,AE17c}\ch{AE17a}{l127,AE17b}\ch{AE17b}{l128,l129}
\ch{AE17c}{l130,AE17d}\ch{AE17d}{l131,l132}\ch{AE19}{l133,l134}
\ch{AE20}{AE21,l138}\ch{AE21}{l135,AE22}\ch{AE22}{l136,l137}\ch{AE2}{l139,l140}
\ch{AG}{AG1,AG20}\ch{AG1}{AG2,AG6}\ch{AG2}{l141,AG3}\ch{AG3}{l142,AG4}\ch{AG4}{l143,AG5}
\ch{AG5}{l144,AG5a}\ch{AG5a}{l145,l146}
\ch{AG6}{l147,AG7}\ch{AG7}{AG8,AG9}\ch{AG8}{l148,l149}\ch{AG9}{l150,AG10}\ch{AG10}{l151,AG11}
\ch{AG11}{l152,AG12}\ch{AG12}{l153,AG13}\ch{AG13}{l154,l155}
\ch{AG20}{AG21,l166}\ch{AG21}{AG22,AG28}\ch{AG22}{AG23,AG27}\ch{AG23}{l156,AG24}
\ch{AG24}{AG25,AG26}\ch{AG25}{l157,l158}\ch{AG26}{l159,AG26a}\ch{AG26a}{l160,l161}
\ch{AG27}{l162,l163}\ch{AG28}{l164,l165}
\ch{AH}{AH1,AH3}\ch{AH1}{l167,AH2}\ch{AH2}{l168,l169}\ch{AH3}{AH4,AH6}
\ch{AH4}{l170,AH5}\ch{AH5}{l171,l172}\ch{AH6}{l173,AH7}\ch{AH7}{l174,AH8}\ch{AH8}{l175,l176,l177}
\ch{Q}{Q1,Q3}\ch{Q1}{Q2,l180}\ch{Q2}{l178,l179}\ch{Q3}{Q4,Q5}\ch{Q4}{l181,l182}\ch{Q5}{l183,l184}
\end{scope}
\end{tikzpicture}
\end{document}
